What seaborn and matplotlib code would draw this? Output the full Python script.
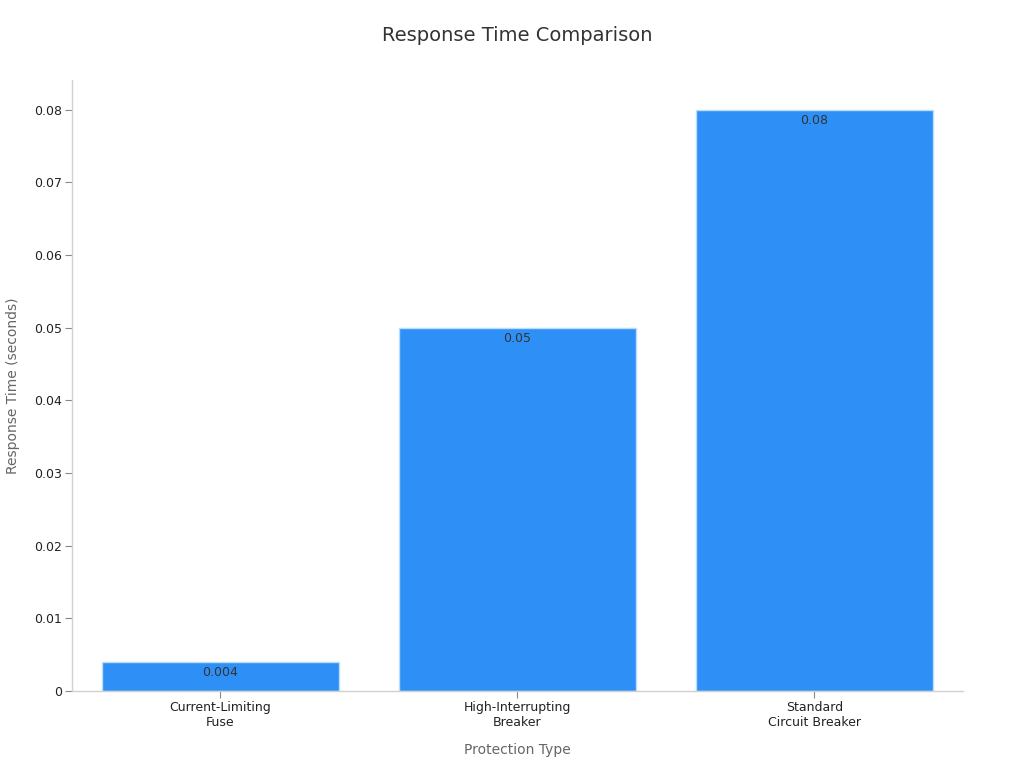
import pandas as pd
import matplotlib
matplotlib.use("Agg")
import matplotlib.pyplot as plt
import matplotlib.ticker as mticker
import seaborn as sns

# data
categories = ["Current-Limiting\nFuse", "High-Interrupting\nBreaker", "Standard\nCircuit Breaker"]
response_times = [0.004, 0.05, 0.08]
value_labels = ["0.004", "0.05", "0.08"]

df = pd.DataFrame({"Protection Type": categories, "Response Time": response_times})

sns.set_style("white")
plt.rcParams["font.family"] = ["DejaVu Sans"]

fig = plt.figure(figsize=(10.24, 7.68), dpi=100)
ax = fig.add_axes([0.0703, 0.1003, 0.8701, 0.7955])

sns.barplot(data=df, x="Protection Type", y="Response Time", color="#2e90f7",
            saturation=1, width=0.8, edgecolor="#bcdcfb", linewidth=1, ax=ax)

# value labels just inside the top of each bar
for bar, lab in zip(ax.patches, value_labels):
    ax.text(bar.get_x() + bar.get_width() / 2, bar.get_height() - 0.0015, lab,
            ha="center", va="center", fontsize=9, color="#333333")

ax.set_xlim(-0.5, 2.5)
ax.set_ylim(0, 0.0841)
ax.yaxis.set_major_locator(mticker.MultipleLocator(0.01))
ax.yaxis.set_major_formatter(mticker.FuncFormatter(lambda v, p: f"{v:g}"))

ax.set_title("Response Time Comparison", fontsize=14, color="#333333", pad=28)
ax.set_xlabel("Protection Type", fontsize=10, color="#666666", labelpad=10)
ax.set_ylabel("Response Time (seconds)", fontsize=10, color="#666666", labelpad=10)

for side in ["top", "right"]:
    ax.spines[side].set_visible(False)
for side in ["left", "bottom"]:
    ax.spines[side].set_color("#d0d0d0")
    ax.spines[side].set_linewidth(1)

ax.tick_params(axis="both", which="major", length=5, pad=2, color="#888888",
               labelsize=9, labelcolor="#222222", left=True, bottom=True)

plt.savefig("out.png", dpi=100)
